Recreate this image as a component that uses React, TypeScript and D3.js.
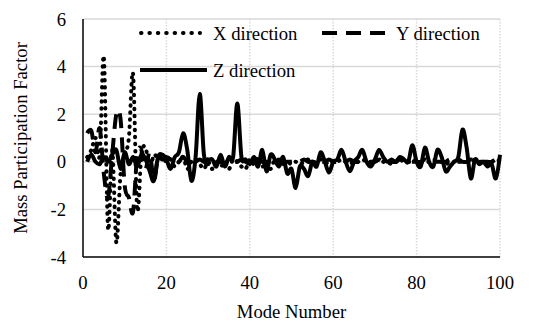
import React from "react";
import * as d3 from "d3";

const W = 544;
const H = 322;

const modes = d3.range(1, 101);

const xDirection = [
  0.2, 0.5, 1.0, 0.3, 4.4, -2.8, 0.5, -3.4, -0.5, 0.3,
  1.0, 3.7, -2.0, 0.3, 0.6, -0.3, 0.3, 0.1, 0.2, 0.0,
  0.1, -0.2, 0.0, 0.2, -0.3, 0.0, 0.1, -0.1, -0.3, 0.0,
  -0.3, 0.1, -0.2, 0.0, -0.3, 0.1, 0.0, -0.2, -0.3, 0.1,
  -0.1, 0.2, -0.2, 0.0, -0.3, 0.1, 0.0, -0.1, 0.0, -0.1,
  0.0, -0.1, 0.0, 0.1, 0.0, 0.0, 0.1, 0.0, -0.1, 0.0,
  0.0, 0.1, 0.0, 0.0, -0.1, 0.0, 0.1, 0.0, 0.0, 0.0,
  0.1, 0.0, 0.0, -0.1, 0.0, 0.0, 0.1, 0.0, 0.0, 0.1,
  0.0, 0.0, 0.0, 0.1, 0.0, 0.0, -0.1, 0.0, 0.0, 0.1,
  0.0, 0.0, 0.0, 0.1, 0.0, 0.0, -0.1, 0.0, 0.0, 0.1,
];

const yDirection = [
  1.2, 1.3, 0.4, 1.4, -0.5, -1.5, 0.3, 2.0, 1.8, -1.0,
  -1.5, -2.1, 0.3, 0.5, -0.3, 0.4, -0.8, 0.2, 0.1, 0.2,
  0.1, -0.1, 0.0, 0.2, 0.0, -0.1, 0.0, 0.1, 0.0, -0.1,
  0.1, 0.0, 0.0, -0.1, 0.1, 0.0, 0.0, 0.1, 0.0, -0.1,
  0.0, 0.1, 0.0, 0.0, -0.1, 0.0, 0.1, 0.0, 0.0, 0.0,
  0.0, 0.0, 0.1, 0.0, 0.0, -0.1, 0.0, 0.0, 0.1, 0.0,
  0.0, 0.0, 0.0, 0.1, 0.0, 0.0, 0.0, -0.1, 0.0, 0.0,
  0.1, 0.0, 0.0, 0.0, 0.0, 0.1, 0.0, 0.0, 0.0, 0.0,
  0.0, 0.1, 0.0, 0.0, 0.0, 0.0, 0.0, 0.1, 0.0, 0.0,
  0.0, 0.0, 0.1, 0.0, 0.0, 0.0, 0.0, 0.0, 0.1, 0.0,
];

const zDirection = [
  0.0, 0.3, 0.0, -0.1, 0.2, 0.0, 0.3, 0.5, -0.3, 0.4,
  -0.1, 0.2, -0.2, 0.3, 0.1, -0.4, -0.8, 0.2, 0.3, 0.1,
  -0.3, 0.2, 0.4, 1.2, 0.5, -0.8, 0.2, 2.85, 0.3, 0.1,
  0.1, -0.2, 0.3, -0.2, 0.2, 0.2, 2.45, 0.2, 0.1, -0.1,
  0.2, -0.2, 0.5, -0.4, 0.3, 0.1, -0.2, 0.2, -0.5, -0.3,
  -1.1, -0.2, -0.3, -0.6, 0.0, -0.2, 0.4, 0.0, -0.45, 0.0,
  0.1, 0.5, 0.0, -0.4, 0.0, 0.2, 0.5, 0.0, -0.2, 0.1,
  0.5, 0.2, 0.0, 0.1, 0.0, 0.2, 0.1, 0.0, 0.7, 0.0,
  -0.2, 0.6, 0.0, -0.2, 0.5, 0.2, -0.4, -0.2, 0.0, 0.2,
  1.35, 0.6, -0.7, 0.1, -0.1, 0.0, -0.2, -0.1, -0.7, 0.3,
];

const xTicks = [0, 20, 40, 60, 80, 100];
const yTicks = [-4, -2, 0, 2, 4, 6];

const seriesNames = ["X direction", "Y direction", "Z direction"];

const FONT = "'Liberation Serif', 'Times New Roman', serif";

export default function App() {
  const left = 83;
  const right = 500;
  const top = 19;
  const bottom = 257;

  const x = d3.scaleLinear().domain([0, 100]).range([left, right]);
  const y = d3.scaleLinear().domain([-4, 6]).range([bottom, top]);

  const line = d3
    .line<number>()
    .x((_, i) => x(modes[i]))
    .y((d) => y(d))
    .curve(d3.curveCardinal.tension(0));

  const fs = 18.67;

  return (
    <svg
      width={W}
      height={H}
      style={{ position: "absolute", left: 0, top: 0, background: "#fff" }}
      fontFamily={FONT}
    >
      {yTicks
        .filter((t) => t > -4)
        .map((t) => (
          <line
            key={"h" + t}
            x1={left}
            x2={right}
            y1={y(t)}
            y2={y(t)}
            stroke="#d9d9d9"
            strokeWidth={1.5}
          />
        ))}
      {xTicks
        .filter((t) => t > 0)
        .map((t) => (
          <line
            key={"v" + t}
            x1={x(t)}
            x2={x(t)}
            y1={top}
            y2={bottom}
            stroke="#d9d9d9"
            strokeWidth={1.5}
            strokeDasharray="1.5 1.5"
          />
        ))}

      <path
        d={line(xDirection) || ""}
        fill="none"
        stroke="#000"
        strokeWidth={4}
        strokeDasharray="0.5 6.5"
        strokeLinecap="round"
      />
      <path
        d={line(yDirection) || ""}
        fill="none"
        stroke="#000"
        strokeWidth={4}
        strokeDasharray="15 9"
      />
      <path
        d={line(zDirection) || ""}
        fill="none"
        stroke="#000"
        strokeWidth={4}
        strokeLinejoin="round"
      />

      <line x1={left} x2={left} y1={top} y2={bottom} stroke="#000" strokeWidth={1.5} />
      <line x1={left} x2={right} y1={bottom} y2={bottom} stroke="#000" strokeWidth={1.5} />

      {yTicks.map((t) => (
        <text key={"yl" + t} x={66} y={y(t) + 6.5} fontSize={fs} textAnchor="end" fill="#000">
          {t}
        </text>
      ))}
      {xTicks.map((t) => (
        <text key={"xl" + t} x={x(t)} y={289} fontSize={fs} textAnchor="middle" fill="#000">
          {t}
        </text>
      ))}

      <text x={(left + right) / 2} y={318} fontSize={fs} textAnchor="middle" fill="#000">
        Mode Number
      </text>
      <text
        transform={`translate(27, ${(top + bottom) / 2}) rotate(-90)`}
        fontSize={fs}
        textAnchor="middle"
        fill="#000"
      >
        Mass Participation Factor
      </text>

      <line x1={141} x2={200} y1={33} y2={33} stroke="#000" strokeWidth={4} strokeDasharray="0.5 7.9" strokeLinecap="round" />
      <text x={213} y={39.5} fontSize={fs} fill="#000">{seriesNames[0]}</text>
      <line x1={322} x2={394} y1={33} y2={33} stroke="#000" strokeWidth={4} strokeDasharray="15 9" />
      <text x={396} y={39.5} fontSize={fs} fill="#000">{seriesNames[1]}</text>
      <line x1={140} x2={207} y1={70} y2={70} stroke="#000" strokeWidth={4} />
      <text x={213} y={76.5} fontSize={fs} fill="#000">{seriesNames[2]}</text>
    </svg>
  );
}
